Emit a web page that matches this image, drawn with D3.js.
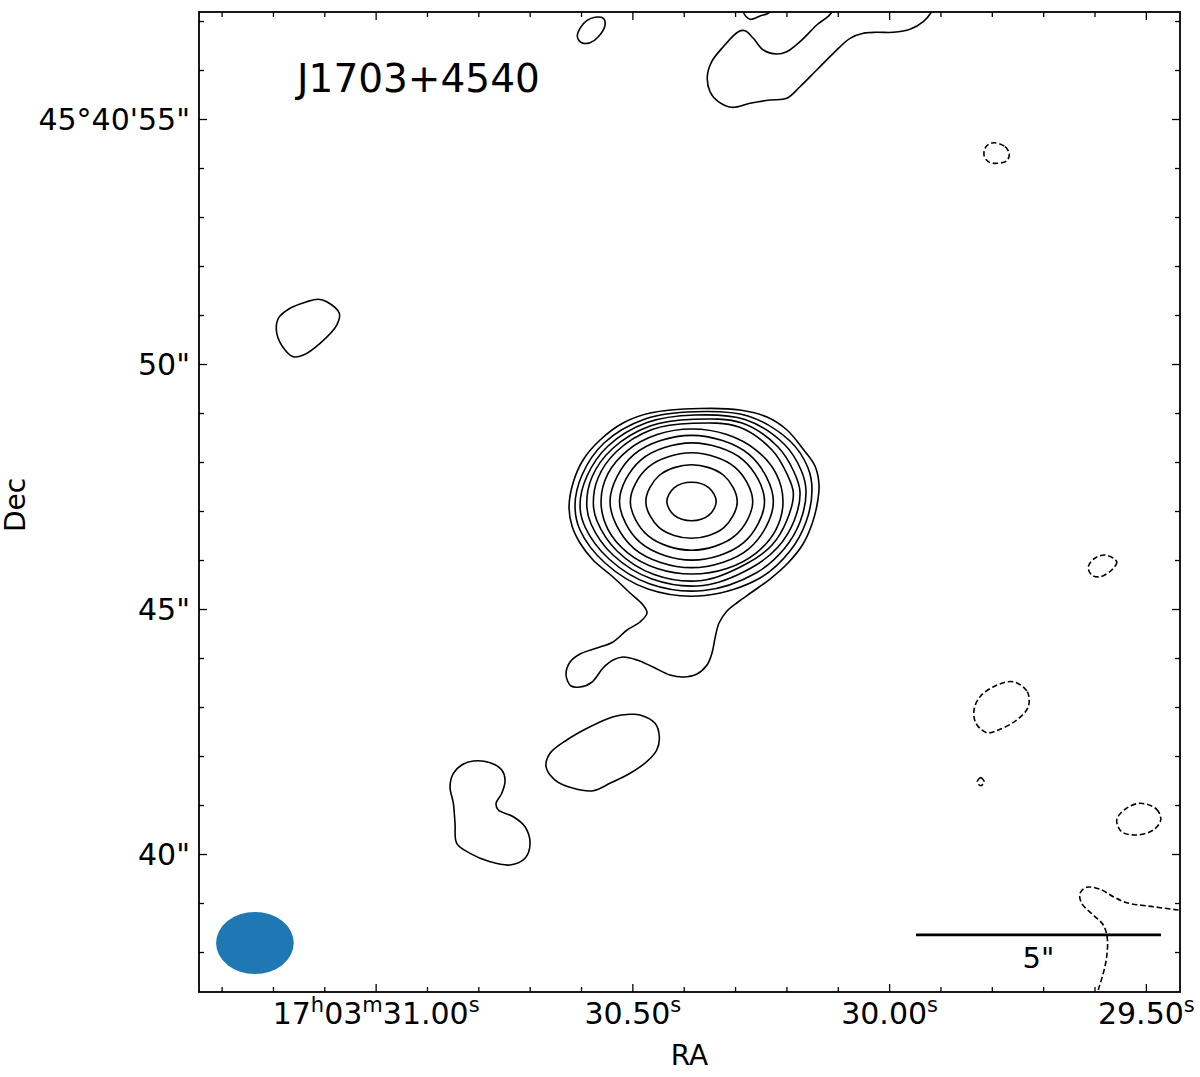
<!DOCTYPE html>
<html><head><meta charset="utf-8">
<script src="https://cdn.jsdelivr.net/npm/d3@7"></script>
<style>
body{margin:0;background:#fff}
svg text{font-family:"DejaVu Sans",sans-serif;fill:#000}
</style>
</head><body>
<svg id="chart" width="1200" height="1077"></svg>
<script>
// ---------------- data ----------------
const sourceName = "J1703+4540";
const raCore = 30.3848;      // s  (17h03m)
const decCore = 47.194;      // arcsec (+45°40')
const raLimits = [31.344, 29.4335];   // s, left -> right
const decLimits = [37.184, 57.184];   // arcsec, bottom -> top

const raMajor = [31.00, 30.50, 30.00, 29.50];
const raMajorLabels = ["17h03m31.00s", "30.50s", "30.00s", "29.50s"];
const raMinor = [31.30,31.20,31.10,30.90,30.80,30.70,30.60,30.40,30.30,30.20,30.10,29.90,29.80,29.70,29.60];
const decMajor = [40, 45, 50, 55];
const decMajorLabels = ['40"', '45"', '50"', '45°40\'55"'];
const decMinor = [38,39,41,42,43,44,46,47,48,49,51,52,53,54,56,57];

// contour points: [west offset arcsec, north offset arcsec] relative to core
const coreRings = [
 [[0.504,0],[0.356,0.279],[0,0.394],[-0.356,0.279],[-0.504,0],[-0.356,-0.279],[0,-0.394],[0.356,-0.279]],
 [[0.933,0],[0.660,0.531],[0,0.751],[-0.660,0.531],[-0.933,0],[-0.660,-0.531],[0,-0.751],[0.660,-0.531]],
 [[1.249,0],[0.883,0.703],[0,0.994],[-0.883,0.703],[-1.249,0],[-0.883,-0.703],[0,-0.994],[0.883,-0.703]],
 [[1.49,0],[1.056,0.846],[0.01,1.196],[-1.036,0.846],[-1.47,0],[-1.036,-0.846],[0.01,-1.196],[1.056,-0.846]],
 [[1.67,0],[1.18,0.955],[0,1.35],[-1.178,0.955],[-1.663,0],[-1.178,-0.955],[0,-1.35],[1.18,-0.955]],
 [[1.867,0],[1.726,0.567],[1.323,1.046],[0.721,1.367],[0.01,1.48],[-0.701,1.367],[-1.303,1.046],[-1.706,0.567],
  [-1.847,0],[-1.706,-0.567],[-1.303,-1.046],[-0.701,-1.367],[0.01,-1.48],[0.721,-1.367],[1.323,-1.046],[1.726,-0.567]],
 [[0.031,1.596],[0.969,1.520],[1.643,1.051],[1.949,0.561],[2.078,0.173],[1.949,-0.378],[1.643,-0.888],[1.112,-1.276],
  [0.214,-1.612],[-0.765,-1.490],[-1.520,-1.010],[-1.929,-0.398],[-2.004,-0.031],[-1.908,0.480],[-1.541,1.010],[-0.806,1.469]],
 [[0.051,1.678],[1.031,1.602],[1.765,1.112],[2.092,0.602],[2.214,0.194],[2.092,-0.398],[1.765,-0.929],[1.214,-1.357],
  [0.235,-1.714],[-0.806,-1.582],[-1.602,-1.092],[-2.051,-0.459],[-2.139,-0.051],[-2.031,0.5],[-1.622,1.071],[-0.847,1.541]],
 [[0.071,1.765],[1.092,1.673],[1.888,1.173],[2.235,0.643],[2.337,0.214],[2.214,-0.418],[1.888,-0.969],[1.316,-1.459],
  [0.255,-1.816],[-0.847,-1.684],[-1.684,-1.173],[-2.173,-0.520],[-2.276,-0.071],[-2.133,0.520],[-1.704,1.133],[-0.908,1.612]],
 [[0.071,1.833],[1.153,1.745],[2.010,1.235],[2.378,0.684],[2.459,0.235],[2.337,-0.418],[2.010,-1.010],[1.398,-1.561],
  [0.276,-1.918],[-0.888,-1.786],[-1.765,-1.255],[-2.276,-0.582],[-2.378,-0.071],[-2.235,0.541],[-1.786,1.194],[-0.949,1.684]]
];

const outerWithTail = [[0.173,1.898],[0.990,1.867],[1.541,1.724],[1.949,1.459],[2.276,1.071],[2.520,0.724],[2.602,0.337],
 [2.561,-0.071],[2.459,-0.459],[2.276,-0.867],[1.969,-1.255],[1.602,-1.582],[1.235,-1.847],[0.949,-2.051],[0.724,-2.235],
 [0.561,-2.480],[0.480,-2.786],[0.418,-3.092],[0.316,-3.337],[0.112,-3.520],[-0.173,-3.582],[-0.439,-3.541],[-0.786,-3.378],
 [-1.112,-3.235],[-1.398,-3.173],[-1.602,-3.235],[-1.806,-3.398],[-2.031,-3.684],[-2.276,-3.786],[-2.459,-3.765],
 [-2.561,-3.541],[-2.480,-3.276],[-2.276,-3.112],[-1.929,-2.990],[-1.602,-2.867],[-1.316,-2.622],[-1.051,-2.459],
 [-0.908,-2.276],[-0.990,-2.112],[-1.255,-1.867],[-1.602,-1.541],[-2.010,-1.194],[-2.276,-0.847],[-2.439,-0.5],
 [-2.5,-0.112],[-2.418,0.378],[-2.214,0.847],[-1.867,1.255],[-1.398,1.602],[-0.847,1.806]];

const islandNW = [[-7.616,4.127],[-7.445,4.078],[-7.188,3.841],[-7.241,3.602],[-7.582,3.229],[-7.922,2.990],[-8.127,2.955],
 [-8.296,3.092],[-8.465,3.433],[-8.433,3.739],[-8.194,3.943],[-7.853,4.078]];
const islandTop = [[-1.800,9.861],[-1.765,9.724],[-1.902,9.486],[-2.071,9.363],[-2.241,9.363],[-2.331,9.486],[-2.276,9.657],
 [-2.139,9.812],[-1.969,9.882]];
const islandTopRight = [[2.861,9.996],[2.555,9.724],[2.214,9.384],[1.943,9.180],[1.739,9.133],[1.465,9.214],[1.261,9.453],
 [1.092,9.608],[0.955,9.588],[0.649,9.282],[0.412,8.976],[0.322,8.669],[0.378,8.363],[0.547,8.159],[0.820,8.045],[1.194,8.127],
 [1.602,8.194],[1.943,8.229],[2.214,8.465],[2.555,8.806],[2.894,9.147],[3.235,9.453],[3.506,9.555],[3.780,9.576],[4.118,9.576],
 [4.459,9.637],[4.731,9.792],[4.902,9.996],[5.071,10.337],[2.724,10.337]];
const islandTopHook = [[1.057,9.996],[1.112,9.898],[1.194,9.841],[1.398,9.908],[1.602,9.996],[1.643,10.337],[1.010,10.337]];
const islandMid = [[-1.051,-4.357],[-0.745,-4.527],[-0.657,-4.800],[-0.710,-5.071],[-0.914,-5.310],[-1.255,-5.547],
 [-1.663,-5.751],[-2.004,-5.902],[-2.412,-5.853],[-2.786,-5.684],[-2.969,-5.412],[-2.888,-5.139],[-2.547,-4.867],
 [-2.071,-4.596],[-1.596,-4.392],[-1.255,-4.343]];
const islandSW = [[-4.453,-5.296],[-4.112,-5.331],[-3.873,-5.480],[-3.806,-5.684],[-3.873,-5.955],[-3.990,-6.159],
 [-3.943,-6.296],[-3.637,-6.433],[-3.398,-6.637],[-3.296,-6.976],[-3.398,-7.282],[-3.704,-7.418],[-4.112,-7.351],
 [-4.520,-7.180],[-4.792,-6.976],[-4.827,-6.567],[-4.861,-6.159],[-4.929,-5.820],[-4.861,-5.547],[-4.690,-5.378]];

const negClosed = [
 [[6.159,7.322],[6.398,7.241],[6.486,7.092],[6.433,6.955],[6.229,6.902],[6.057,6.935],[5.969,7.071],[6.010,7.241]],
 [[8.439,-1.092],[8.678,-1.229],[8.576,-1.398],[8.337,-1.535],[8.167,-1.5],[8.098,-1.343],[8.200,-1.180]],
 [[6.567,-3.678],[6.853,-3.882],[6.873,-4.188],[6.637,-4.459],[6.261,-4.663],[6.024,-4.718],[5.806,-4.527],[5.765,-4.255],
  [5.888,-3.984],[6.194,-3.765]],
 [[5.973,-5.718],[5.902,-5.636],[5.831,-5.718],[5.902,-5.800]],
 [[9.153,-6.159],[9.494,-6.282],[9.576,-6.5],[9.424,-6.704],[9.086,-6.806],[8.780,-6.739],[8.678,-6.5],[8.847,-6.282]]
];
const negOpen = [[10.276,-8.378],[9.935,-8.337],[9.424,-8.269],[8.882,-8.188],[8.608,-8.065],[8.337,-7.914],[8.065,-7.873],
 [7.929,-7.996],[7.963,-8.2],[8.2,-8.439],[8.404,-8.643],[8.486,-8.914],[8.473,-9.290],[8.404,-9.629],[8.302,-9.969],[8.235,-10.276]];

const beamMajor = 1.586, beamMinor = 1.265;   // arcsec (EW, NS)
const scaleBarLength = 5;                     // arcsec
const scaleBarLabel = '5"';

// ---------------- drawing ----------------
const plot = {left:199, right:1180, top:12, bottom:992};
const svg = d3.select("#chart");
const x = d3.scaleLinear().domain(raLimits).range([plot.left, plot.right]);
const y = d3.scaleLinear().domain(decLimits).range([plot.bottom, plot.top]);
const cosDec = Math.cos((45 + 40/60 + decCore/3600) * Math.PI / 180);
const px = p => x(raCore - p[0] / (15 * cosDec));
const py = p => y(decCore + p[1]);

svg.append("defs").append("clipPath").attr("id","clip")
  .append("rect").attr("x",plot.left).attr("y",plot.top)
  .attr("width",plot.right-plot.left).attr("height",plot.bottom-plot.top);

const gC = svg.append("g").attr("clip-path","url(#clip)");
const closedLine = d3.line().x(px).y(py).curve(d3.curveCatmullRomClosed.alpha(0.5));
const openLine = d3.line().x(px).y(py).curve(d3.curveCatmullRom.alpha(0.5));
const LW = 1.6, DASH = "5.5,2.8";

const solid = [...coreRings, outerWithTail, islandNW, islandTop, islandTopRight, islandTopHook, islandMid, islandSW];
gC.selectAll("path.pos").data(solid).join("path").attr("class","pos")
  .attr("d", closedLine).attr("fill","none").attr("stroke","#000").attr("stroke-width",LW);
gC.selectAll("path.neg").data(negClosed).join("path").attr("class","neg")
  .attr("d", closedLine).attr("fill","none").attr("stroke","#000").attr("stroke-width",LW)
  .attr("stroke-dasharray",DASH);
gC.append("path").attr("d", openLine(negOpen)).attr("fill","none").attr("stroke","#000")
  .attr("stroke-width",LW).attr("stroke-dasharray",DASH);

// beam (axes fraction position)
const bx = plot.left + 0.057*(plot.right-plot.left), by = plot.bottom - 0.05*(plot.bottom-plot.top);
const brx = Math.abs(px([beamMajor/2,0]) - px([0,0]));
const bry = Math.abs(py([0,beamMinor/2]) - py([0,0]));
svg.append("ellipse").attr("cx",bx).attr("cy",by).attr("rx",brx).attr("ry",bry).attr("fill","#1f77b4");

// scale bar
const sbRight = plot.left + 0.9806*(plot.right-plot.left);
const sbLen = Math.abs(px([scaleBarLength,0]) - px([0,0]));
const sbY = plot.bottom - 0.0582*(plot.bottom-plot.top);
svg.append("line").attr("x1",sbRight-sbLen).attr("x2",sbRight).attr("y1",sbY).attr("y2",sbY)
  .attr("stroke","#000").attr("stroke-width",2.7);
svg.append("text").attr("x",sbRight-sbLen/2).attr("y",sbY+33).attr("text-anchor","middle")
  .attr("font-size",29).text(scaleBarLabel);

// title
svg.append("text").attr("x", plot.left + 0.1*(plot.right-plot.left)).attr("y", 92)
  .attr("font-size",39).text(sourceName);

// axes
function styleAxis(g){ g.select(".domain").remove(); g.selectAll(".tick line").attr("stroke","#000").attr("stroke-width",1.3); }
const major = 8, minor = 5;
svg.append("g").attr("transform",`translate(0,${plot.bottom})`)
  .call(d3.axisBottom(x).tickValues(raMinor).tickSize(-minor).tickFormat("")).call(styleAxis);
svg.append("g").attr("transform",`translate(0,${plot.top})`)
  .call(d3.axisTop(x).tickValues(raMinor).tickSize(-minor).tickFormat("")).call(styleAxis);
svg.append("g").attr("transform",`translate(0,${plot.top})`)
  .call(d3.axisTop(x).tickValues(raMajor).tickSize(-major).tickFormat("")).call(styleAxis);
const bAx = svg.append("g").attr("transform",`translate(0,${plot.bottom})`)
  .call(d3.axisBottom(x).tickValues(raMajor).tickSize(-major).tickFormat((d,i)=>raMajorLabels[i])).call(styleAxis);
bAx.selectAll(".tick text").each(function(d,i){
  const t = d3.select(this).attr("y",32).attr("dy",null).attr("font-size",30).attr("font-family",'"DejaVu Sans"').text(null);
  const parts = raMajorLabels[i].split(/([hms])/).filter(s=>s.length);
  let up = false;
  parts.forEach(s=>{
    const sup = /^[hms]$/.test(s);
    const ts = t.append("tspan").text(s);
    if (sup) { ts.attr("font-size",21).attr("dy", -12); up = true; }
    else if (up) { ts.attr("dy", 12); up = false; }
  });
});
svg.append("g").attr("transform",`translate(${plot.left},0)`)
  .call(d3.axisLeft(y).tickValues(decMinor).tickSize(-minor).tickFormat("")).call(styleAxis);
svg.append("g").attr("transform",`translate(${plot.right},0)`)
  .call(d3.axisRight(y).tickValues(decMinor).tickSize(-minor).tickFormat("")).call(styleAxis);
svg.append("g").attr("transform",`translate(${plot.right},0)`)
  .call(d3.axisRight(y).tickValues(decMajor).tickSize(-major).tickFormat("")).call(styleAxis);
const lAx = svg.append("g").attr("transform",`translate(${plot.left},0)`)
  .call(d3.axisLeft(y).tickValues(decMajor).tickSize(-major).tickPadding(9).tickFormat((d,i)=>decMajorLabels[i])).call(styleAxis);
lAx.selectAll(".tick text").attr("font-size",30).attr("font-family",'"DejaVu Sans"').attr("dy","0.34em");

// frame
svg.append("rect").attr("x",plot.left).attr("y",plot.top).attr("width",plot.right-plot.left)
  .attr("height",plot.bottom-plot.top).attr("fill","none").attr("stroke","#000").attr("stroke-width",1.8);

// axis labels
svg.append("text").attr("x",(plot.left+plot.right)/2).attr("y",1065).attr("text-anchor","middle")
  .attr("font-size",28).text("RA");
svg.append("text").attr("transform",`translate(25,${(plot.top+plot.bottom)/2 + 3}) rotate(-90)`)
  .attr("text-anchor","middle").attr("font-size",28).text("Dec");
</script>
</body></html>
